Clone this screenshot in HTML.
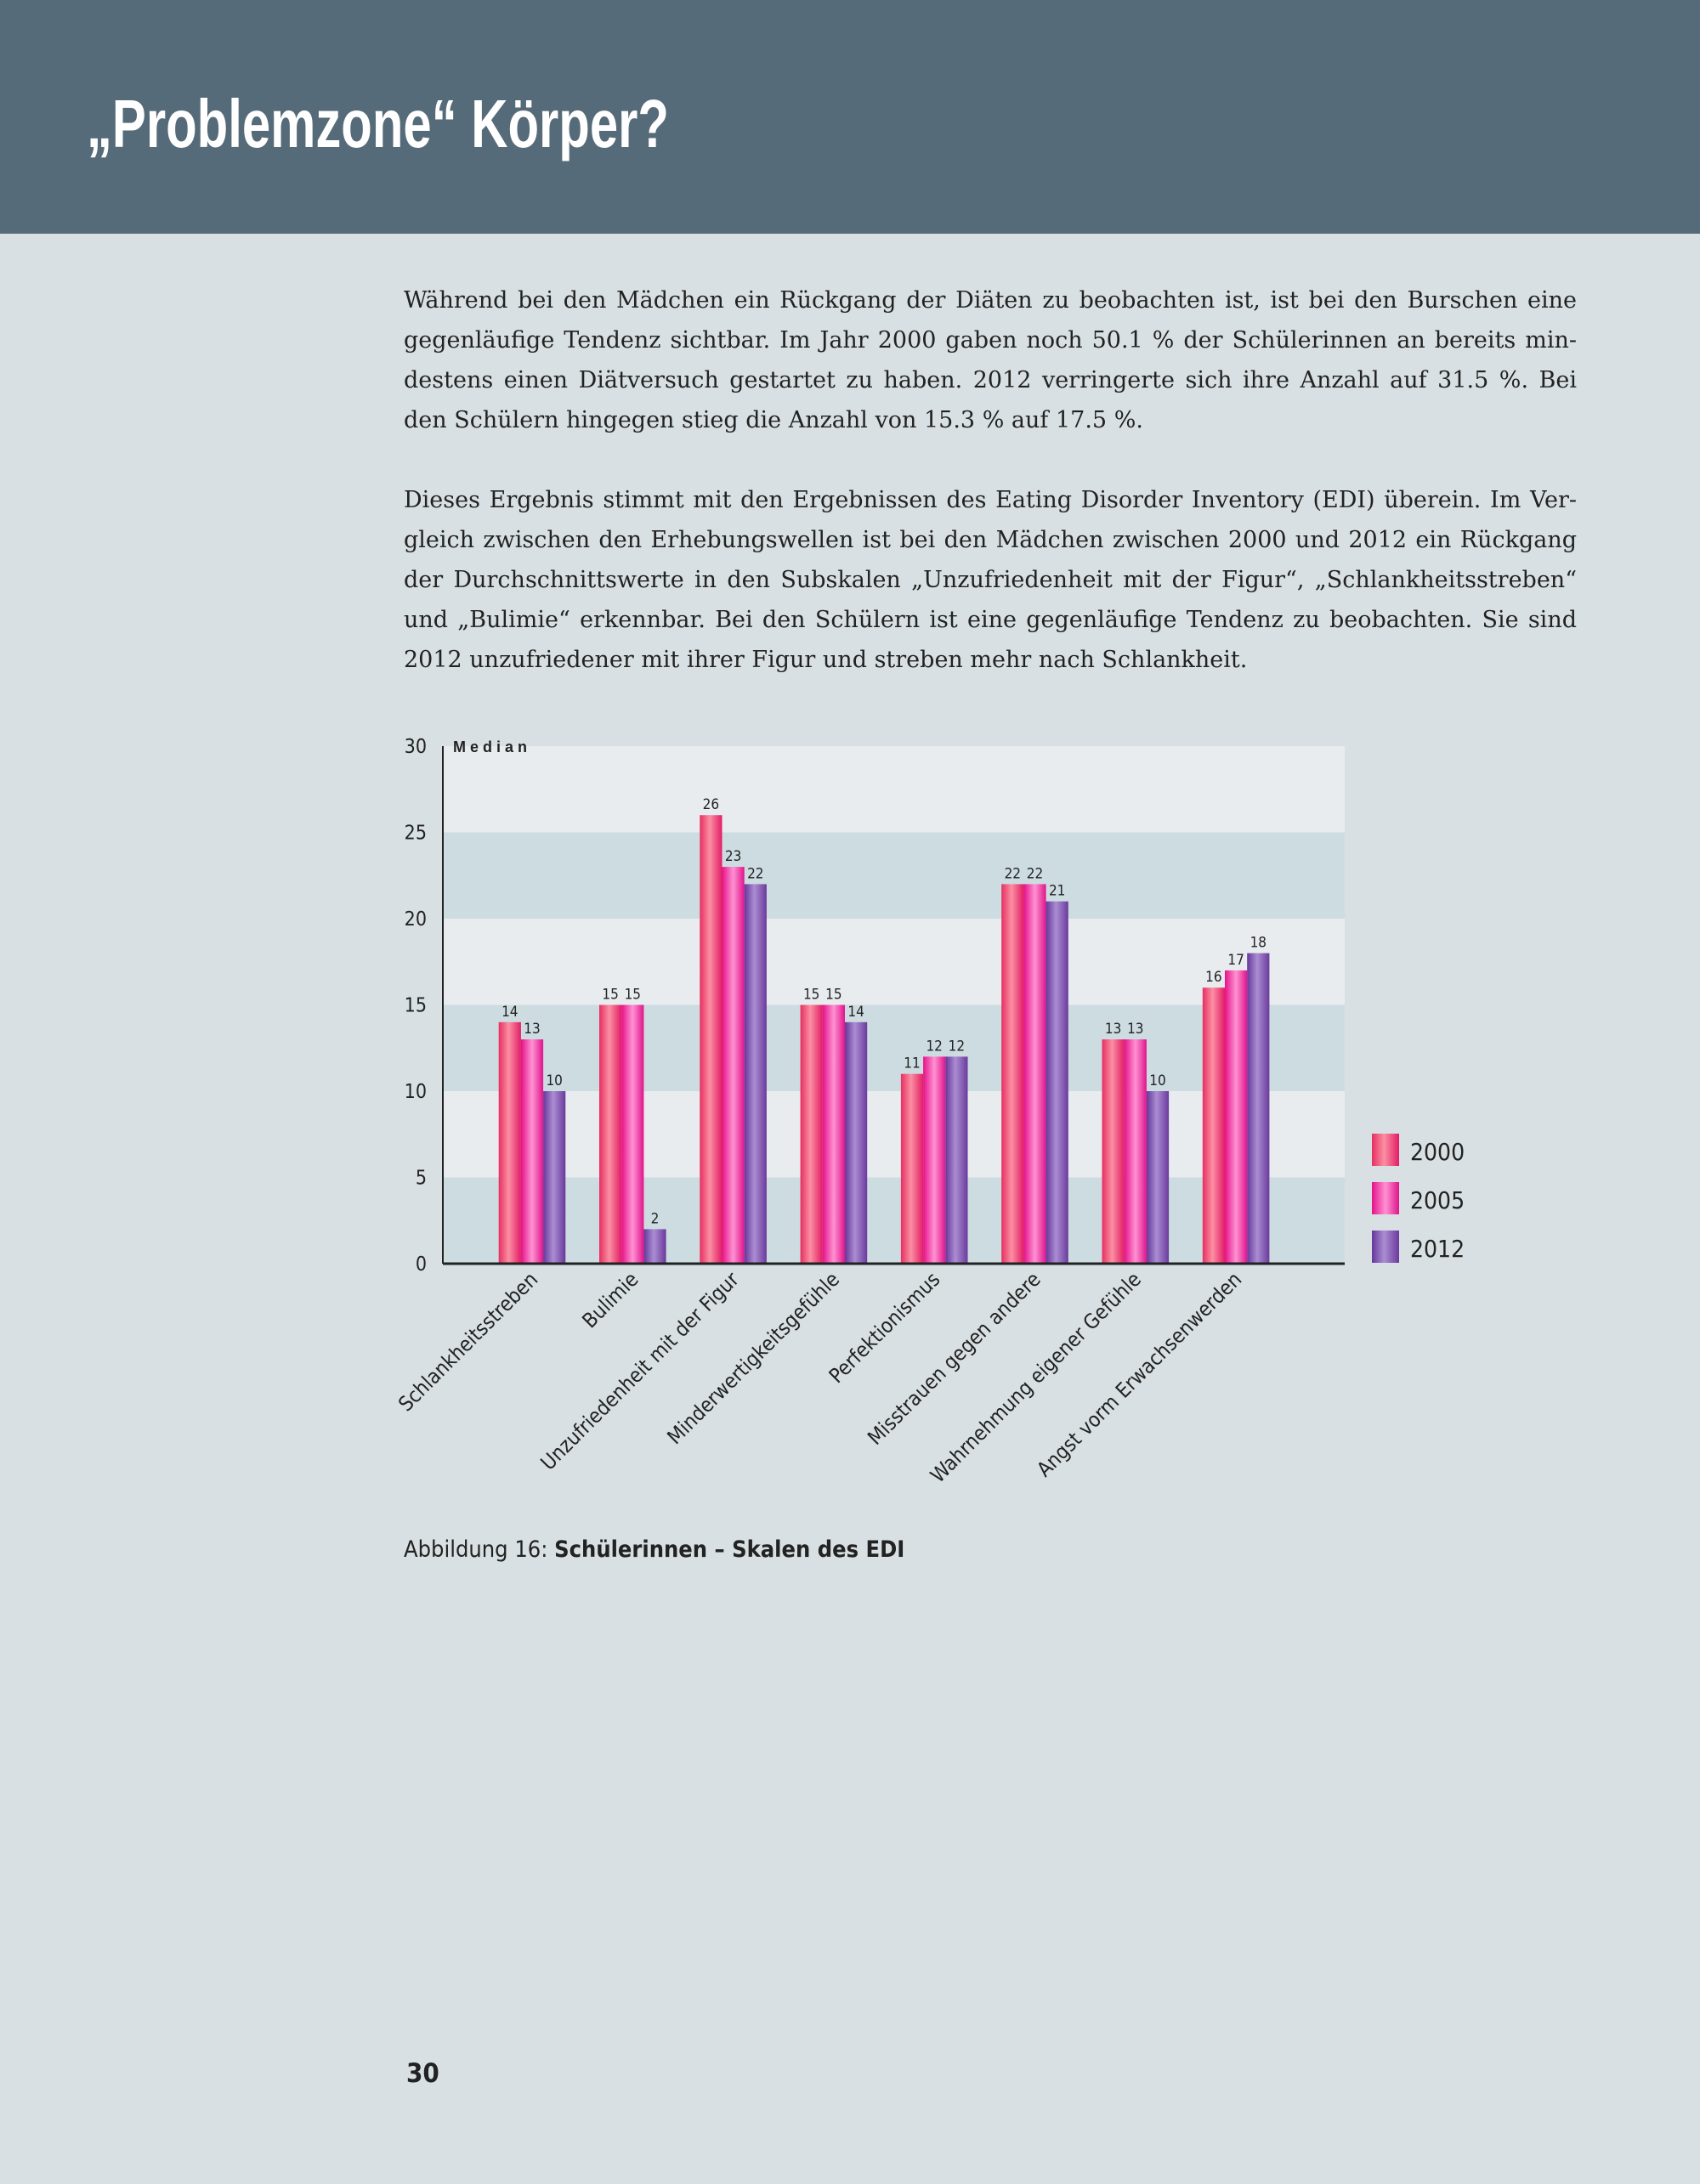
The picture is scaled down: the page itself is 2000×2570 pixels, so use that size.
<!DOCTYPE html>
<html><head><meta charset="utf-8">
<style>
html,body{margin:0;padding:0;}
body{width:2000px;height:2570px;background:#d8e0e3;position:relative;overflow:hidden;font-family:"Liberation Sans",sans-serif;}
#hdr{position:absolute;left:0;top:0;width:2000px;height:275px;background:#566b79;}
#title{position:absolute;left:102px;top:100px;font:bold 80px "Liberation Sans Narrow","Liberation Sans",sans-serif;color:#fff;white-space:nowrap;transform-origin:0 0;}
.p{position:absolute;left:475px;width:1380px;font:27px/47px "DejaVu Serif","Liberation Serif",serif;color:#222;}
.p div{text-align:justify;text-align-last:justify;white-space:nowrap;}
.p div.l{text-align-last:left;}
.cond{font-family:"DejaVu Sans Condensed","Liberation Sans Narrow","Liberation Sans",sans-serif;}
#cap{position:absolute;left:475px;top:1808px;font-size:27px;color:#222;}
#pg{position:absolute;left:478px;top:2422px;font-size:31px;font-weight:bold;color:#222;}
svg{position:absolute;left:0;top:0;}
</style></head><body>
<div id="hdr"></div>
<div id="title">„Problemzone“ Körper?</div>
<div class="p" style="top:330px">
<div>Während bei den Mädchen ein Rückgang der Diäten zu beobachten ist, ist bei den Burschen eine</div>
<div>gegenläufige Tendenz sichtbar. Im Jahr 2000 gaben noch 50.1 % der Schülerinnen an bereits min-</div>
<div>destens einen Diätversuch gestartet zu haben. 2012 verringerte sich ihre Anzahl auf 31.5 %. Bei</div>
<div class="l">den Schülern hingegen stieg die Anzahl von 15.3 % auf 17.5 %.</div>
</div>
<div class="p" style="top:565px">
<div>Dieses Ergebnis stimmt mit den Ergebnissen des Eating Disorder Inventory (EDI) überein. Im Ver-</div>
<div>gleich zwischen den Erhebungswellen ist bei den Mädchen zwischen 2000 und 2012 ein Rückgang</div>
<div>der Durchschnittswerte in den Subskalen „Unzufriedenheit mit der Figur“, „Schlankheitsstreben“</div>
<div>und „Bulimie“ erkennbar. Bei den Schülern ist eine gegenläufige Tendenz zu beobachten. Sie sind</div>
<div class="l">2012 unzufriedener mit ihrer Figur und streben mehr nach Schlankheit.</div>
</div>
<svg id="chart" width="2000" height="2570">
<defs>
<linearGradient id="g0" x1="0" x2="1"><stop offset="0" stop-color="#e62f62"/><stop offset="0.45" stop-color="#fb8fa2"/><stop offset="1" stop-color="#e21d66"/></linearGradient>
<linearGradient id="g1" x1="0" x2="1"><stop offset="0" stop-color="#e5128a"/><stop offset="0.5" stop-color="#ff92d2"/><stop offset="1" stop-color="#e0148c"/></linearGradient>
<linearGradient id="g2" x1="0" x2="1"><stop offset="0" stop-color="#66379a"/><stop offset="0.45" stop-color="#ab8dd2"/><stop offset="1" stop-color="#6a3a9c"/></linearGradient>
</defs>
<g id="plot"></g>
</svg>
<div id="cap" class="cond">Abbildung 16: <b>Schülerinnen – Skalen des EDI</b></div>
<div id="pg" class="cond">30</div>
<script>
const categories=["Schlankheitsstreben","Bulimie","Unzufriedenheit mit der Figur","Minderwertigkeitsgefühle","Perfektionismus","Misstrauen gegen andere","Wahrnehmung eigener Gefühle","Angst vorm Erwachsenwerden"];
const seriesNames=["2000","2005","2012"];
const s2000=[14,15,26,15,11,22,13,16];
const s2005=[13,15,23,15,12,22,13,17];
const s2012=[10,2,22,14,12,21,10,18];
const yTicks=[0,5,10,15,20,25,30];

const NS="http://www.w3.org/2000/svg";
const FF='"DejaVu Sans Condensed","Liberation Sans Narrow","Liberation Sans",sans-serif';
const g=document.getElementById('plot');
const X0=521,X1=1582,Y0=1487,YT=878,YMAX=30;
const y=v=>Y0-(v/YMAX)*(Y0-YT);
const gx=i=>626+i*118.3;
const BW=26.2;
function mk(t,a){const e=document.createElementNS(NS,t);for(const k in a)e.setAttribute(k,a[k]);g.appendChild(e);return e;}
for(let i=0;i<yTicks.length-1;i++){
  const r=mk('rect',{x:X0,y:y(yTicks[i+1]),width:X1-X0,height:y(yTicks[i])-y(yTicks[i+1]),fill:(i%2===0)?'#cddce1':'#e8ecee'});
  
  
}
yTicks.forEach(v=>{
  const t=mk('text',{x:502,y:y(v)+8,'text-anchor':'end','font-size':23,fill:'#222','font-family':FF});
  t.textContent=v;
  
  
});
const md=mk('text',{x:533,y:885,'font-size':18,'font-weight':'bold','letter-spacing':5,fill:'#222'});
md.textContent='Median';


const series=[s2000,s2005,s2012];
series.forEach((s,si)=>{
  s.forEach((v,i)=>{
    const bx=gx(i)-1.5*BW+si*BW;
    const r=mk('rect',{x:bx,y:y(v),width:BW,height:Y0-y(v),fill:'url(#g'+si+')'});
    
    
    const t=mk('text',{x:bx+BW/2,y:y(v)-7,'text-anchor':'middle','font-size':17,fill:'#222','font-family':FF});
    t.textContent=v;
    
    
  });
});
const ya=mk('line',{x1:X0,y1:YT,x2:X0,y2:Y0,stroke:'#222','stroke-width':2});


const xa=mk('line',{x1:X0,y1:Y0,x2:X1,y2:Y0,stroke:'#222','stroke-width':3});


categories.forEach((c,i)=>{
  const cx=gx(i)+8,cy=Y0+20;
  const t=mk('text',{x:cx,y:cy,'text-anchor':'end','font-size':24,fill:'#222','font-family':FF,transform:`rotate(-45 ${cx} ${cy})`});
  t.textContent=c;
  
  
});
seriesNames.forEach((n,i)=>{
  const ly=1334+i*57;
  const r=mk('rect',{x:1614,y:ly,width:32,height:38,fill:'url(#g'+i+')'});
  
  
  const t=mk('text',{x:1659,y:ly+31,'font-size':28,fill:'#222','font-family':FF});
  t.textContent=n;
  
  
});
const ti=document.getElementById('title');
const w=ti.getBoundingClientRect().width;
ti.style.transform='scaleX('+(685/w)+')';
</script>
</body></html>
